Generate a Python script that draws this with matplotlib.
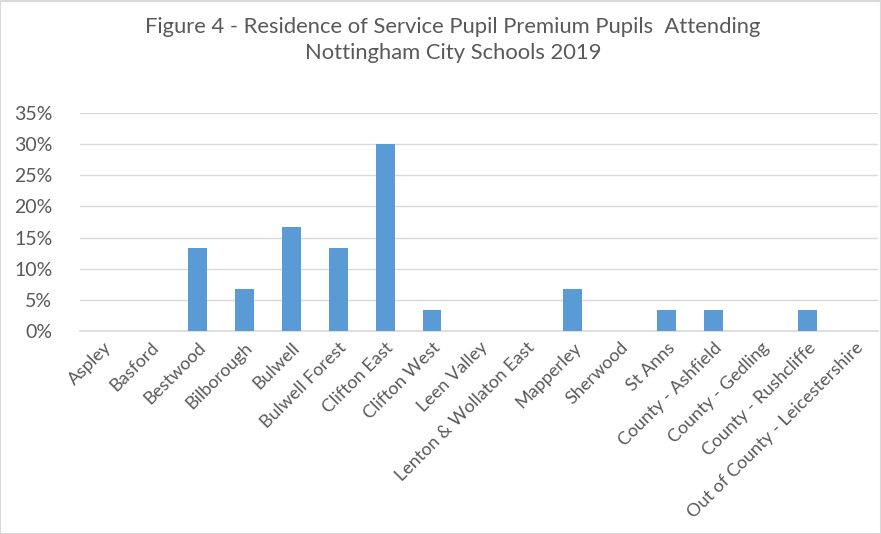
import matplotlib
matplotlib.use("Agg")
import matplotlib.pyplot as plt
from matplotlib.ticker import PercentFormatter
from matplotlib.patches import Rectangle

areas = ["Aspley", "Basford", "Bestwood", "Bilborough", "Bulwell", "Bulwell Forest",
         "Clifton East", "Clifton West", "Leen Valley", "Lenton & Wollaton East",
         "Mapperley", "Sherwood", "St Anns", "County - Ashfield", "County - Gedling",
         "County - Rushcliffe", "Out of County - Leicestershire"]
share = [0, 0, 13.33, 6.67, 16.67, 13.33, 30.0, 3.33, 0, 0,
         6.67, 0, 3.33, 3.33, 0, 3.33, 0]

plt.rcParams["font.family"] = ["Lato", "DejaVu Sans"]
text_col = "#595959"

fig = plt.figure(figsize=(8.81, 5.34), dpi=100)
W, H = 881, 534
ax = fig.add_axes([80 / W, 1 - 331 / H, 798 / W, 218 / H])

x = range(len(areas))
ax.bar(x, share, width=0.4, color="#5b9bd5", zorder=3)

ax.set_ylim(0, 35)
ax.set_yticks(range(0, 36, 5))
ax.yaxis.set_major_formatter(PercentFormatter(decimals=0))
ax.set_xlim(-0.5, len(areas) - 0.5)
ax.set_xticks(list(x))
ax.set_xticklabels(areas, rotation=45, ha="right", rotation_mode="anchor")
ax.tick_params(axis="both", length=0, colors=text_col)
ax.tick_params(axis="y", labelsize=14, pad=20)
ax.tick_params(axis="x", labelsize=13, pad=6)
ax.grid(axis="y", color="#d9d9d9", linewidth=1, zorder=0)
for side in ["top", "right", "left"]:
    ax.spines[side].set_visible(False)
ax.spines["bottom"].set_color("#d9d9d9")
ax.spines["bottom"].set_linewidth(1.2)

fig.text(453 / W, 1 - 40 / H,
         "Figure 4 - Residence of Service Pupil Premium Pupils  Attending\nNottingham City Schools 2019",
         ha="center", va="center", fontsize=15.8, color=text_col, linespacing=1.4)

# chart frame
fig.patches.append(Rectangle((0, 0), 1, 1 - 1 / H, transform=fig.transFigure,
                             fill=False, edgecolor="#d9d9d9", linewidth=1.5))

fig.savefig("out.png", dpi=100)
